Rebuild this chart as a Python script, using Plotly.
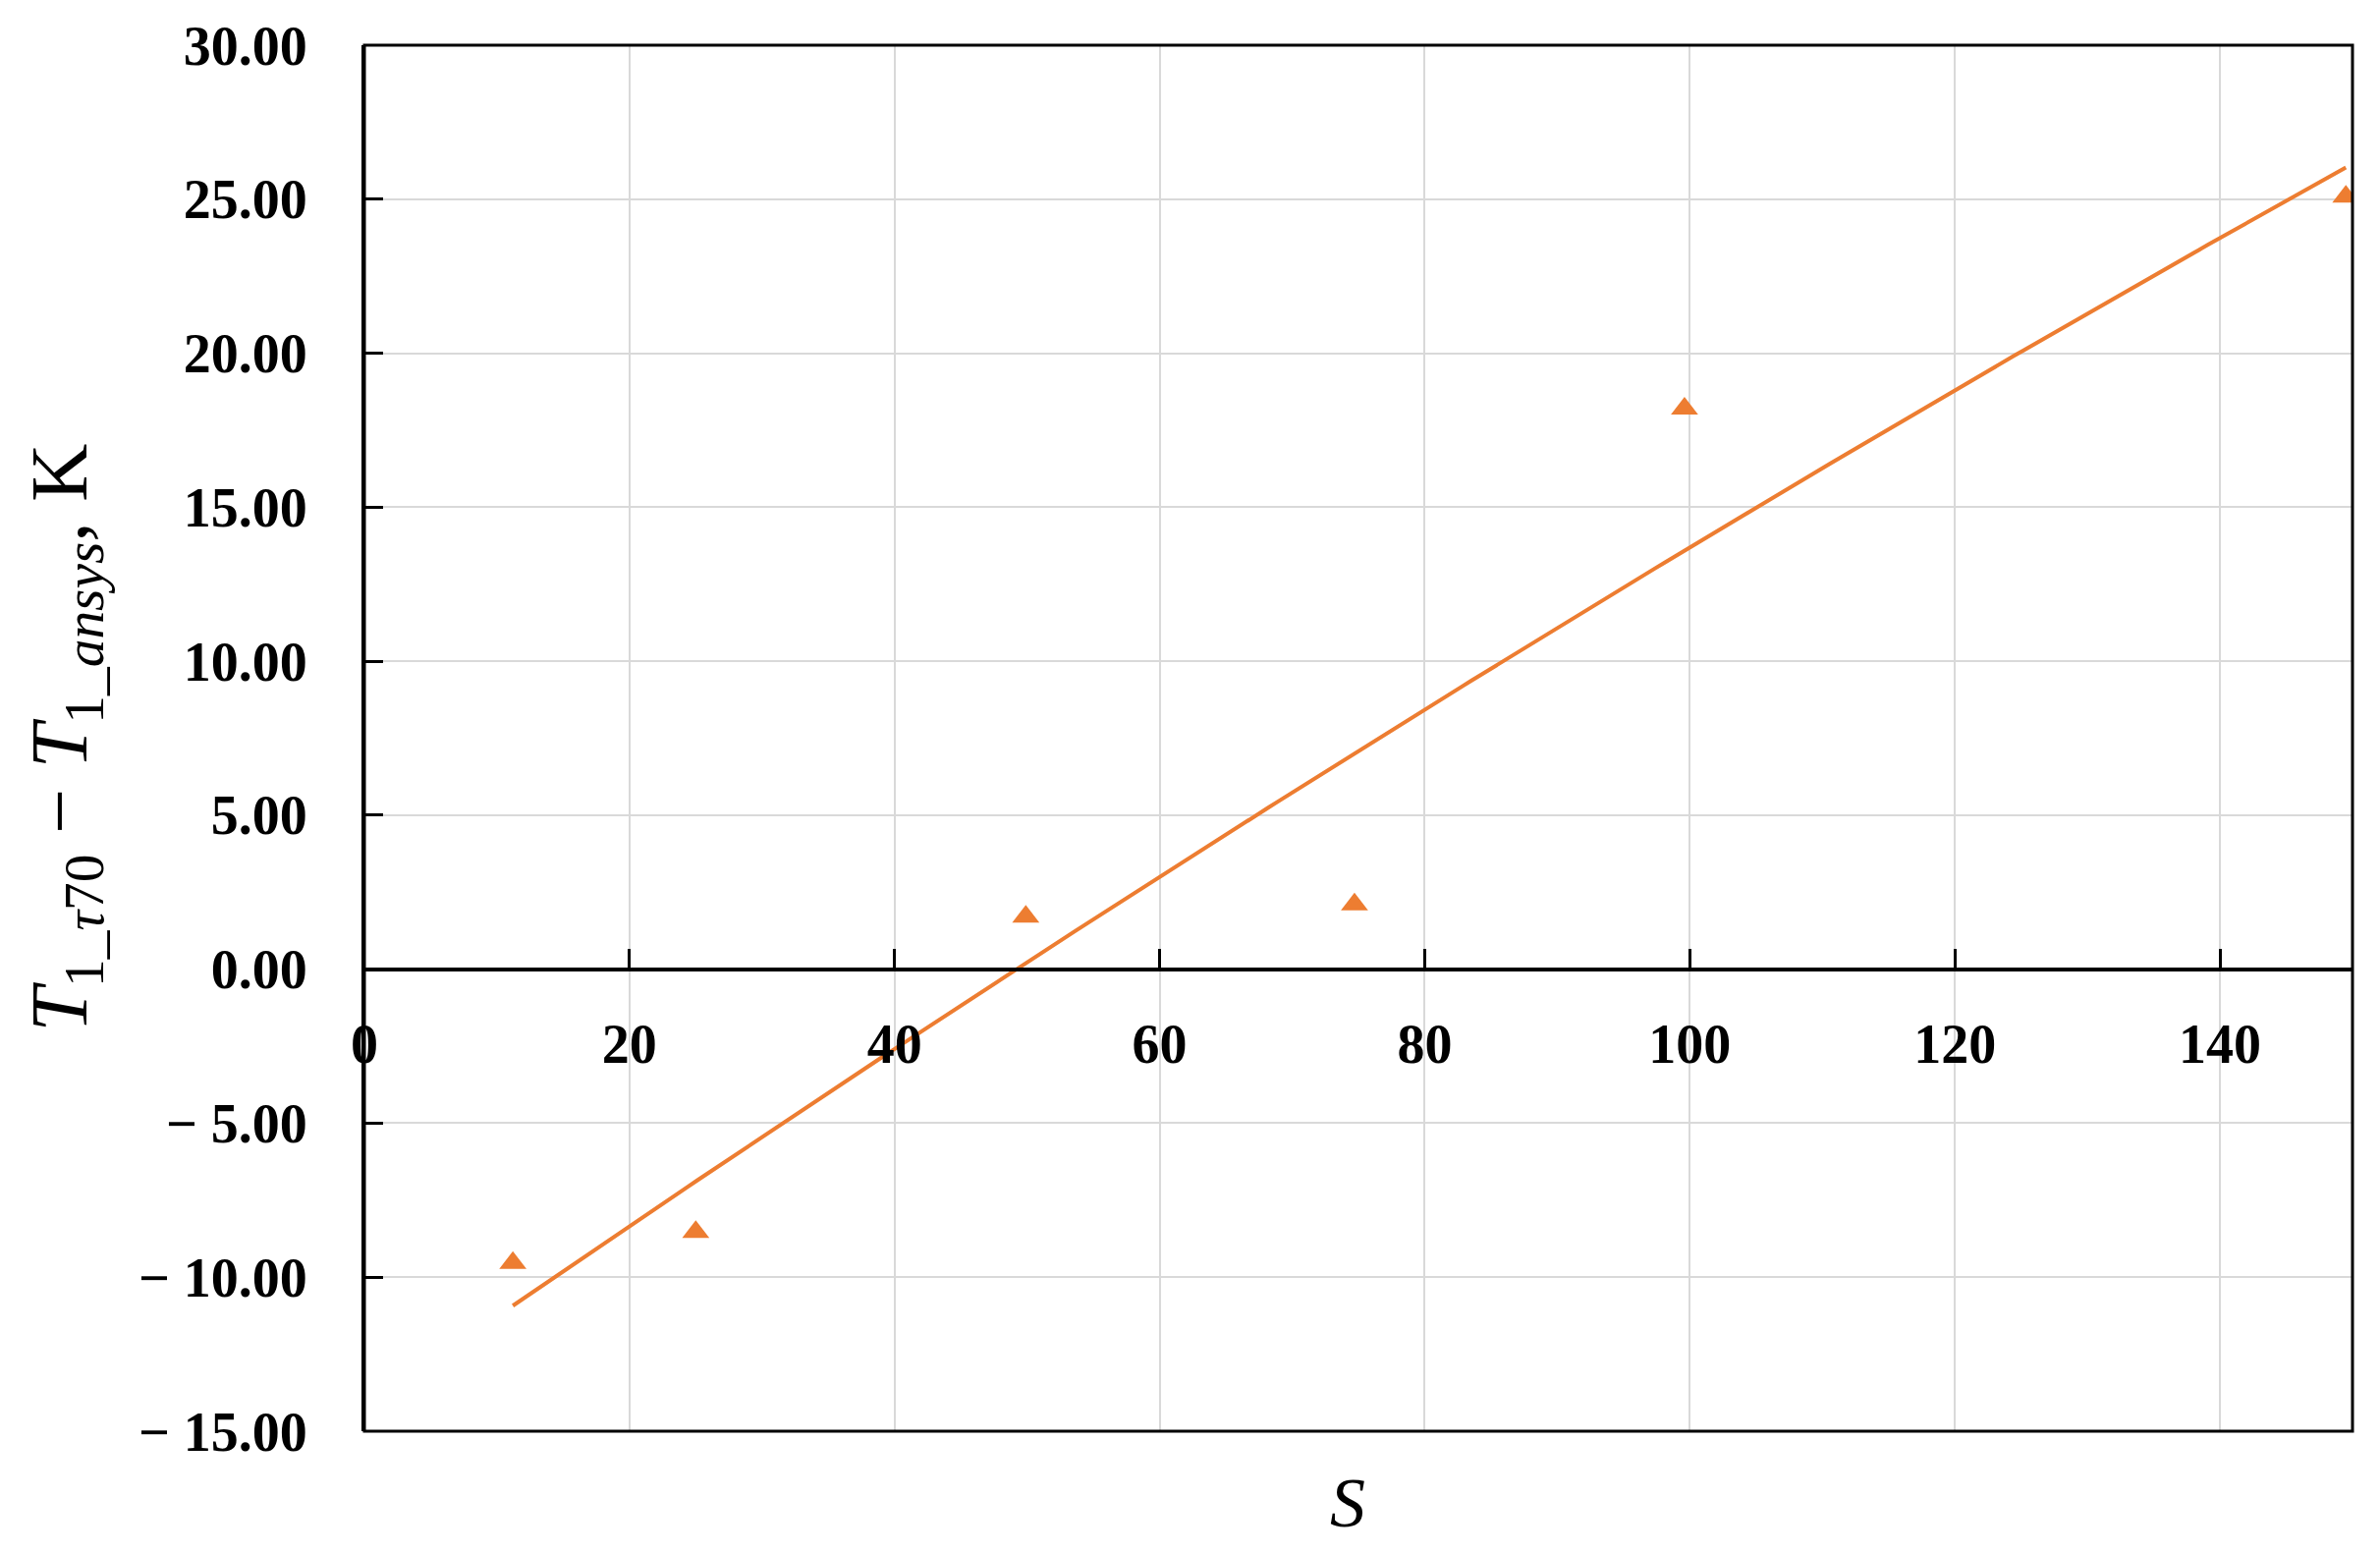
import numpy as np
import plotly.graph_objects as go

# Data
S = [11.2, 25.0, 49.9, 74.7, 99.6, 149.5]
dT = [-9.54, -8.53, 1.70, 2.10, 18.20, 25.08]

x_ticks = [0, 20, 40, 60, 80, 100, 120, 140]
x_ticktext = ["0", "20", "40", "60", "80", "100", "120", "140"]
y_ticks = [-15, -10, -5, 0, 5, 10, 15, 20, 25, 30]
y_ticktext = ["− 15.00", "− 10.00", "− 5.00", "0.00", "5.00", "10.00", "15.00", "20.00", "25.00", "30.00"]

ORANGE = "#ED7D31"
GRID = "#d9d9d9"

# Trend line (polynomial fit of the data, like a spreadsheet trendline)
coef = np.polyfit(S, dT, 2)
tx = np.linspace(min(S), max(S), 200)
ty = np.polyval(coef, tx)

fig = go.Figure()
fig.add_trace(go.Scatter(x=tx, y=ty, mode="lines",
                         line=dict(color=ORANGE, width=4), showlegend=False,
                         hoverinfo="skip"))
fig.add_trace(go.Scatter(x=S, y=dT, mode="markers",
                         marker=dict(symbol="triangle-up", size=24, color=ORANGE),
                         showlegend=False))

# page has an 8px body margin
W, H = 2407, 1565
L, R, T, B = 363, 20, 38, 116
pw, ph = W - L - R, H - T - B

fig.update_layout(
    width=W, height=H,
    margin=dict(l=L, r=R, t=T, b=B, autoexpand=False),
    paper_bgcolor="white", plot_bgcolor="white",
    xaxis=dict(range=[0, 150], tickvals=x_ticks, ticktext=x_ticktext,
               showgrid=True, gridcolor=GRID, gridwidth=2,
               anchor="free", position=1/3,
               showline=True, linecolor="black", linewidth=4,
               ticks="inside", ticklen=19, tickwidth=3, tickcolor="black",
               tickfont=dict(family="Liberation Serif", size=56, color="black", weight="bold"),
               ticklabelstandoff=26, zeroline=False, automargin=False),
    yaxis=dict(range=[-15, 30], tickvals=y_ticks, ticktext=y_ticktext,
               showgrid=True, gridcolor=GRID, gridwidth=2,
               showline=True, linecolor="black", linewidth=3, mirror=False,
               ticks="inside", ticklen=19, tickwidth=3, tickcolor="black",
               tickfont=dict(family="Liberation Serif", size=56, color="black", weight="bold"),
               ticklabelstandoff=44, zeroline=False, automargin=False),
    shapes=[dict(type="rect", xref="paper", yref="paper", x0=0, x1=1, y0=0, y1=1,
                 line=dict(color="black", width=3), layer="above")],
    annotations=[
        dict(text="<i>T</i><sub>1_<i>τ</i>70</sub> − <i>T</i><sub>1_<i>ansys</i></sub>, K",
             xref="paper", yref="paper", x=(57 - L) / pw, y=0.5,
             xanchor="center", yanchor="middle", textangle=-90, showarrow=False,
             font=dict(family="Liberation Serif", size=82, color="black")),
        dict(text="<i>S</i>", xref="paper", yref="paper",
             x=(1364 - L) / pw, y=-(1522 - (T + ph)) / ph,
             xanchor="center", yanchor="middle", showarrow=False,
             font=dict(family="Liberation Serif", size=72, color="black")),
    ],
)

fig.write_html("out.html")
